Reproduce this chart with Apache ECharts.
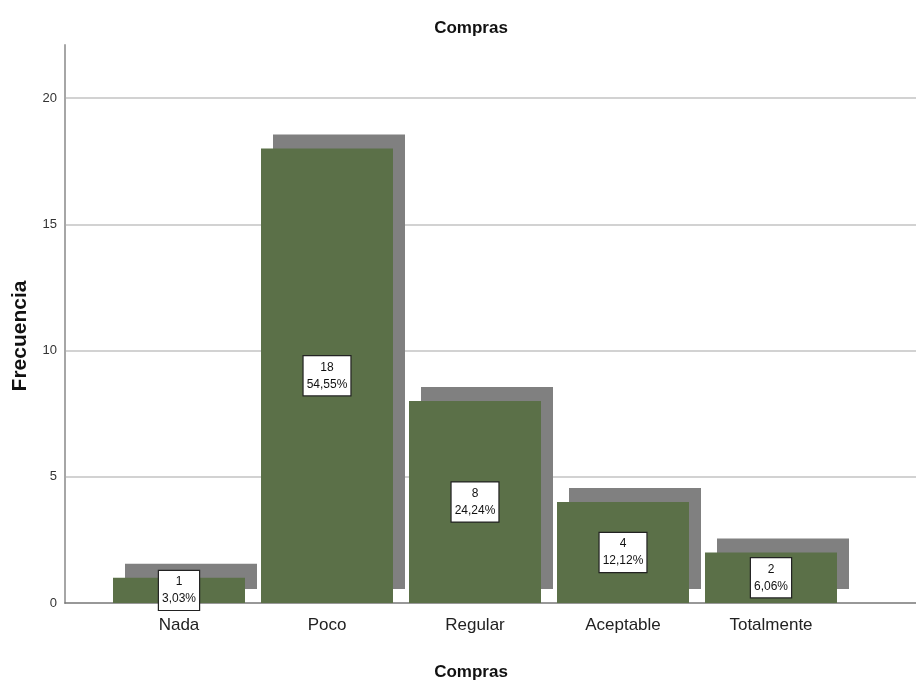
<!DOCTYPE html>
<html>
<head>
<meta charset="utf-8">
<script src="https://cdn.jsdelivr.net/npm/echarts@6/dist/echarts.min.js"></script>
<style>
  html, body { margin: 0; padding: 0; background: #fff; }
  #chart { width: 916px; height: 682px; }
</style>
</head>
<body>
<div id="chart"></div>
<script>
// Frequencies for "Compras"
const categories = ['Nada', 'Poco', 'Regular', 'Aceptable', 'Totalmente'];
const counts = [1, 18, 8, 4, 2];
const percents = ['3,03%', '54,55%', '24,24%', '12,12%', '6,06%'];
const yTicks = [0, 5, 10, 15, 20];

const font = "'Liberation Sans', Arial, sans-serif";
const barGreen = '#5b7048';
const yMax = 22.1;

const chart = echarts.init(document.getElementById('chart'), null, { renderer: 'canvas' });

chart.setOption({
  animation: false,
  backgroundColor: '#ffffff',
  title: [
    {
      text: 'Compras', left: 466, top: 15, textAlign: 'center',
      textStyle: { fontFamily: font, fontSize: 17, fontWeight: 'bold', color: '#111' }
    },
    {
      text: 'Compras', left: 466, top: 659, textAlign: 'center',
      textStyle: { fontFamily: font, fontSize: 17, fontWeight: 'bold', color: '#111' }
    }
  ],
  graphic: [
    {
      type: 'text', x: 20, y: 336, rotation: Math.PI / 2,
      style: {
        text: 'Frecuencia', fontFamily: font, fontSize: 21, fontWeight: 'bold',
        fill: '#111', align: 'center', verticalAlign: 'middle'
      }
    }
  ],
  grid: [
    // frame: value axis, gridlines and baseline across the full plot width
    { left: 65, right: 0, top: 45, bottom: 79 },
    // bars: five category bands
    { left: 105, right: 71, top: 45, bottom: 79 }
  ],
  xAxis: [
    {
      gridIndex: 0, type: 'value', min: 0, max: 1,
      axisLine: { show: true, onZero: false, lineStyle: { color: '#777', width: 1.5 } },
      axisTick: { show: false }, axisLabel: { show: false }, splitLine: { show: false }
    },
    {
      gridIndex: 1, type: 'category', data: categories,
      axisLine: { show: false }, axisTick: { show: false },
      axisLabel: { margin: 14, fontFamily: font, fontSize: 17, color: '#222' }
    }
  ],
  yAxis: [
    {
      gridIndex: 0, type: 'value', min: yTicks[0], max: yMax, interval: yTicks[1] - yTicks[0],
      axisLine: { show: true, lineStyle: { color: '#a6a6a6', width: 2 } },
      axisTick: { show: false },
      axisLabel: {
        margin: 8, fontFamily: font, fontSize: 13, color: '#333', showMaxLabel: false,
        formatter: v => (yTicks.indexOf(v) >= 0 ? String(v) : '')
      },
      splitLine: { show: true, showMinLine: false, showMaxLine: false, lineStyle: { color: '#d2d2d2', width: 2 } }
    },
    {
      gridIndex: 1, type: 'value', min: 0, max: yMax, show: false, splitLine: { show: false }
    }
  ],
  series: [
    {
      type: 'bar', xAxisIndex: 1, yAxisIndex: 1,
      data: counts,
      barWidth: 132,
      itemStyle: {
        color: barGreen,
        shadowColor: '#808080', shadowBlur: 0, shadowOffsetX: 12, shadowOffsetY: -14
      },
      label: {
        show: true, position: 'inside',
        formatter: p => counts[p.dataIndex] + '\n' + percents[p.dataIndex],
        fontFamily: font, fontSize: 12, lineHeight: 17, color: '#111',
        backgroundColor: '#ffffff', borderColor: '#222', borderWidth: 1.2,
        padding: [3, 3, 2, 3], align: 'center'
      }
    }
  ]
});
</script>
</body>
</html>
